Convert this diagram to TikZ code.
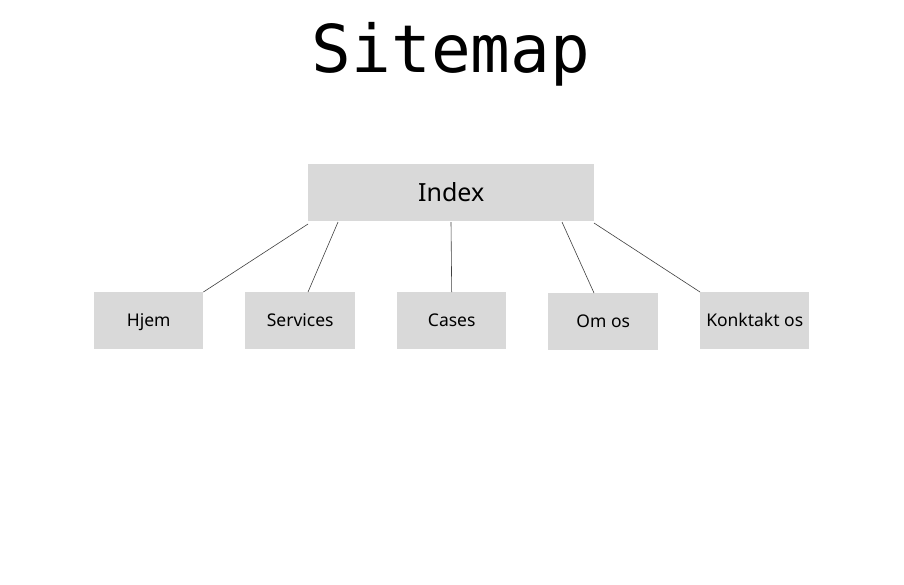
\documentclass[tikz,border=0pt]{standalone}
\usepackage{fontspec}
\setmainfont{Noto Sans}
\newfontfamily\titlefont{DejaVu Sans Mono}
\begin{document}
\begin{tikzpicture}[x=1pt,y=-1pt,
  box/.style={fill=boxgray,draw=none,inner sep=0pt,anchor=north west,
    text height=12.5pt,text depth=0pt,font=\fontsize{17.5}{20}\selectfont},
  link/.style={draw=black!75,line width=0.6pt}]
\definecolor{boxgray}{HTML}{D9D9D9}
\useasboundingbox[fill=white] (0,0) rectangle (904,584);
\node[font=\titlefont\fontsize{66}{70}\selectfont,anchor=base] (title) at (451,72) {Sitemap};
\node[box,minimum width=286pt,minimum height=57pt,text height=17.8pt,font=\fontsize{25}{30}\selectfont] (index) at (308,164) {Index};
\node[box,minimum width=109pt,minimum height=57pt] (hjem) at (94,292) {Hjem};
\node[box,minimum width=110pt,minimum height=57pt] (services) at (245,292) {Services};
\node[box,minimum width=109pt,minimum height=57pt] (cases) at (397,292) {Cases};
\node[box,minimum width=110pt,minimum height=57pt,yshift=-1pt] (omos) at (548,292) {Om os};
\node[box,minimum width=109pt,minimum height=57pt] (kontakt) at (700,292) {Konktakt os};
\coordinate (i1) at (308,224);
\coordinate (i2) at (338,222);
\coordinate (i3) at (451,222);
\coordinate (i4) at (562,222);
\coordinate (i5) at (594,223);
\draw[link] (i1) -- (hjem.north east);
\draw[link] (i2) -- ([xshift=63pt]services.north west);
\draw[link] (i3) -- (cases.north);
\draw[link] (i4) -- ([xshift=46pt]omos.north west);
\draw[link] (i5) -- (kontakt.north west);
\end{tikzpicture}
\end{document}
